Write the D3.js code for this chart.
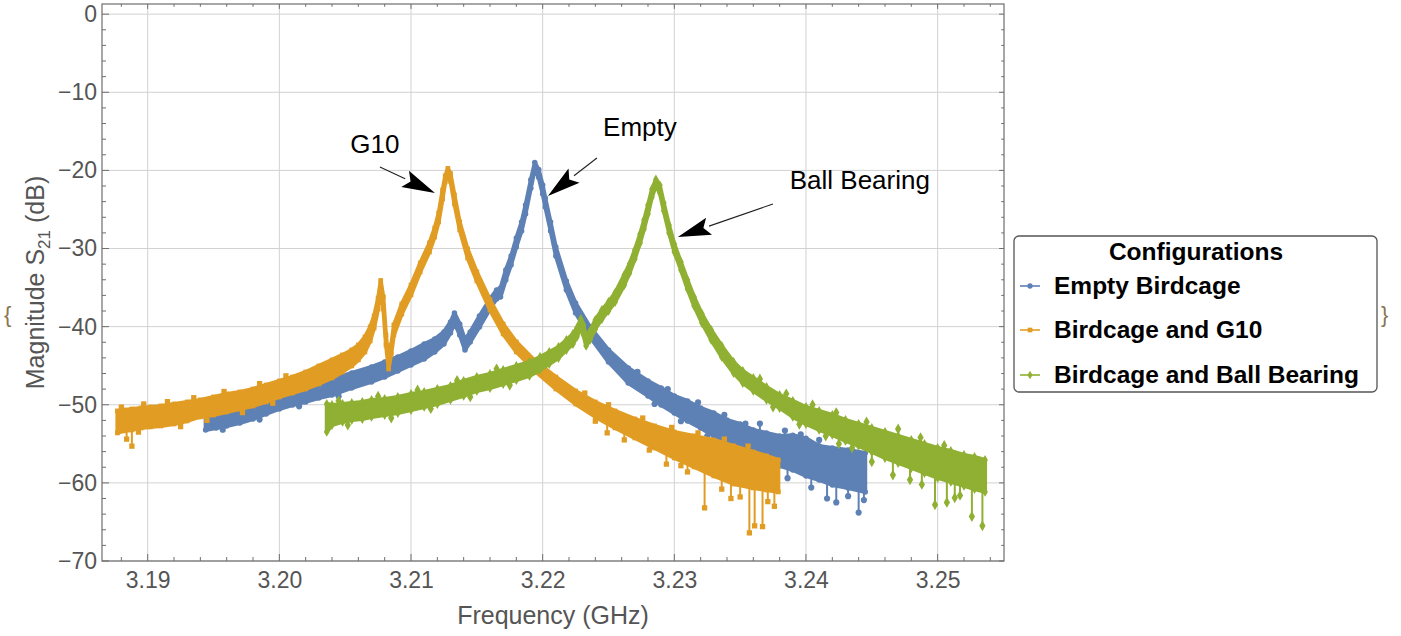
<!DOCTYPE html>
<html>
<head>
<meta charset="utf-8">
<script src="https://cdn.jsdelivr.net/npm/d3@7"></script>
<style>
  body { margin: 0; background: #fff; }
  svg { display: block; font-family: "Liberation Sans", Arial, sans-serif; }
</style>
</head>
<body>
<svg id="chart" width="1401" height="636"></svg>
<script>
// ---- axis ticks ----
const xTicks = [3.19, 3.20, 3.21, 3.22, 3.23, 3.24, 3.25];
const yTicks = [0, -10, -20, -30, -40, -50, -60, -70];

// ---- legend ----
const seriesNames = ["Empty Birdcage", "Birdcage and G10", "Birdcage and Ball Bearing"];
const seriesColors = ["#5e81b5", "#e19c24", "#8fb032"];
const seriesMarkers = ["circle", "square", "diamond"];

// ---- Empty birdcage: trace band (lower / upper edge, dB) vs frequency (GHz) ----
const emptyFreq = [3.1944, 3.1952, 3.1960, 3.1970, 3.1980, 3.1990, 3.2000, 3.2010, 3.2020, 3.2030,
  3.2040, 3.2055, 3.2070, 3.2080, 3.2090, 3.2100, 3.2110, 3.2118, 3.2125, 3.2130,
  3.2133, 3.2137, 3.2141, 3.2145, 3.2152, 3.2160, 3.2165, 3.2168, 3.2172, 3.2176,
  3.2180, 3.2184, 3.2187, 3.2191, 3.2194, 3.2197, 3.2200, 3.2202, 3.2206, 3.2210,
  3.2218, 3.2225, 3.2236, 3.2250, 3.2265, 3.2280, 3.2290, 3.2300, 3.2310, 3.2320,
  3.2330, 3.2340, 3.2350, 3.2360, 3.2370, 3.2380, 3.2390, 3.2400, 3.2410, 3.2420,
  3.2432, 3.2445];
const emptyHigh = [-51.31, -51.05, -50.79, -50.28, -49.90, -49.26, -48.49, -48.11, -47.59, -47.21,
  -46.70, -45.93, -45.16, -44.52, -43.88, -43.11, -42.22, -41.58, -40.68, -39.40,
  -38.25, -39.66, -41.70, -40.68, -38.63, -36.46, -35.30, -35.05, -32.74, -30.95,
  -28.65, -26.60, -24.42, -21.20, -19.00, -19.90, -21.86, -23.53, -26.60, -29.80,
  -34.15, -36.97, -40.04, -42.99, -45.29, -46.95, -47.85, -48.87, -49.51, -50.41,
  -51.05, -51.95, -52.46, -53.22, -53.61, -53.99, -53.90, -54.30, -55.27, -55.53,
  -55.78, -56.17];
const emptyLow = [-53.22, -52.97, -52.71, -52.33, -51.82, -51.18, -50.54, -50.03, -49.64, -49.13,
  -48.75, -47.85, -47.08, -46.44, -45.67, -44.90, -44.14, -43.24, -42.22, -40.81,
  -39.53, -41.06, -42.99, -41.96, -40.04, -37.74, -36.46, -36.20, -34.02, -32.10,
  -29.80, -27.75, -25.58, -22.30, -19.90, -20.90, -23.02, -24.68, -27.75, -30.95,
  -35.30, -38.25, -41.32, -44.52, -47.21, -48.87, -50.03, -51.05, -52.07, -52.97,
  -53.99, -54.63, -55.53, -56.42, -57.06, -57.83, -58.35, -59.11, -59.63, -60.27,
  -60.65, -61.16];
// isolated samples outside the band: [frequency, band edge, value]
const emptyOutliers = [
  [3.2355, -55.8, -57.0], [3.2372, -57.0, -58.8], [3.2386, -58.0, -59.4],
  [3.2404, -59.2, -60.6], [3.2416, -59.8, -62.0], [3.2423, -60.2, -62.5],
  [3.2432, -60.6, -61.7], [3.2440, -60.9, -63.8], [3.2444, -61.0, -62.2],
  [3.2365, -53.5, -52.4], [3.2354, -53.0, -52.4], [3.2384, -54.2, -53.3],
  [3.2410, -55.3, -54.5], [3.2396, -54.4, -53.8],
  [3.1950, -51.1, -50.7], [3.1975, -50.1, -49.7], [3.2005, -48.3, -47.9], [3.2035, -47.0, -46.6],
  [3.1957, -52.8, -53.2], [3.1985, -51.5, -51.9], [3.2015, -49.8, -50.2], [3.2045, -48.5, -48.9],
  [3.2272, -46.2, -45.8], [3.2295, -48.4, -48.0], [3.2318, -50.2, -49.7], [3.2338, -51.8, -51.3],
  [3.2285, -49.4, -49.9], [3.2305, -51.6, -52.1], [3.2325, -53.5, -54.0], [3.2345, -55.1, -55.6]
];

// ---- Birdcage and G10 ----
const g10Freq = [3.1877, 3.1882, 3.1888, 3.1895, 3.1902, 3.1910, 3.1920, 3.1930, 3.1940, 3.1950,
  3.1960, 3.1970, 3.1980, 3.1990, 3.2000, 3.2010, 3.2020, 3.2030, 3.2040, 3.2048,
  3.2055, 3.2060, 3.2065, 3.2069, 3.2072, 3.2075, 3.2077, 3.2079, 3.2081, 3.2083,
  3.2085, 3.2087, 3.2093, 3.2100, 3.2107, 3.2114, 3.2118, 3.2121, 3.2124, 3.2126,
  3.2128, 3.2130, 3.2133, 3.2137, 3.2143, 3.2150, 3.2160, 3.2170, 3.2180, 3.2195,
  3.2210, 3.2225, 3.2240, 3.2255, 3.2270, 3.2285, 3.2300, 3.2315, 3.2330, 3.2345,
  3.2360, 3.2370, 3.2379];
const g10High = [-50.79, -50.67, -50.54, -50.41, -50.28, -50.15, -49.90, -49.64, -49.38, -49.00,
  -48.62, -48.36, -47.98, -47.47, -46.95, -46.44, -45.80, -45.03, -44.26, -43.62,
  -42.98, -42.35, -41.32, -40.04, -38.63, -36.33, -34.10, -36.20, -41.06, -44.52,
  -42.35, -39.78, -37.10, -34.67, -31.85, -29.29, -27.37, -25.45, -22.50, -20.70,
  -19.75, -20.40, -23.14, -26.60, -30.06, -33.00, -36.58, -39.66, -41.96, -44.52,
  -46.44, -48.23, -49.64, -50.79, -51.82, -52.71, -53.48, -53.99, -54.51, -55.27,
  -56.04, -56.55, -57.06];
const g10Low = [-53.61, -53.35, -53.22, -52.97, -52.84, -52.71, -52.46, -52.07, -51.56, -51.31,
  -50.92, -50.54, -50.15, -49.64, -49.00, -48.49, -47.98, -47.34, -46.57, -45.80,
  -45.03, -44.26, -43.24, -41.83, -40.17, -37.74, -35.18, -37.74, -42.35, -45.42,
  -43.50, -41.06, -38.38, -35.94, -33.00, -30.44, -28.52, -26.60, -23.65, -21.48,
  -20.60, -21.40, -24.30, -27.62, -31.21, -34.15, -37.86, -40.94, -43.24, -45.80,
  -47.98, -49.90, -51.56, -52.97, -54.25, -55.53, -56.81, -57.96, -59.11, -60.14,
  -60.65, -60.91, -61.16];
const g10Outliers = [
  [3.1888, -53.2, -55.3], [3.1884, -53.3, -54.4], [3.2249, -51.5, -53.6],
  [3.2262, -53.3, -54.5], [3.2294, -56.0, -57.6], [3.2310, -57.5, -58.6],
  [3.2323, -58.6, -63.2], [3.2336, -59.3, -60.8], [3.2350, -60.2, -61.8],
  [3.2357, -60.5, -66.4], [3.2361, -60.6, -65.5], [3.2367, -60.8, -65.6],
  [3.2371, -60.9, -62.4], [3.2376, -61.0, -63.0], [3.2343, -59.9, -62.0],
  [3.1880, -50.7, -50.3], [3.1897, -50.3, -49.9], [3.1915, -50.0, -49.6], [3.1935, -49.5, -49.1],
  [3.1958, -48.7, -48.3], [3.1985, -47.7, -47.3], [3.2005, -46.7, -46.3],
  [3.1893, -53.0, -53.5], [3.1925, -52.3, -52.8], [3.1945, -51.5, -52.0], [3.1972, -50.5, -51.0],
  [3.1995, -49.3, -49.8],
  [3.2232, -48.9, -48.5], [3.2250, -50.4, -50.0], [3.2276, -52.2, -51.7], [3.2298, -53.4, -52.9],
  [3.2318, -54.1, -53.6], [3.2338, -54.9, -54.4], [3.2356, -55.8, -55.3],
  [3.2240, -51.6, -52.1], [3.2281, -55.2, -55.8], [3.2305, -57.1, -57.8]
];

// ---- Birdcage and Ball Bearing ----
const ballFreq = [3.2036, 3.2040, 3.2048, 3.2055, 3.2063, 3.2070, 3.2080, 3.2090, 3.2100, 3.2110,
  3.2120, 3.2130, 3.2140, 3.2150, 3.2160, 3.2170, 3.2180, 3.2190, 3.2198, 3.2205,
  3.2212, 3.2218, 3.2223, 3.2226, 3.2229, 3.2231, 3.2233, 3.2236, 3.2240, 3.2245,
  3.2250, 3.2255, 3.2262, 3.2266, 3.2270, 3.2274, 3.2277, 3.2280, 3.2283, 3.2286,
  3.2289, 3.2292, 3.2296, 3.2300, 3.2305, 3.2310, 3.2315, 3.2321, 3.2328, 3.2336,
  3.2345, 3.2352, 3.2360, 3.2370, 3.2380, 3.2390, 3.2400, 3.2410, 3.2420, 3.2430,
  3.2440, 3.2450, 3.2460, 3.2470, 3.2480, 3.2490, 3.2500, 3.2510, 3.2520, 3.2528,
  3.2536];
const ballHigh = [-49.90, -50.03, -49.90, -49.77, -49.64, -49.38, -49.26, -49.00, -48.62, -48.36,
  -47.98, -47.59, -46.95, -46.44, -46.06, -45.54, -45.03, -44.52, -43.88, -43.24,
  -42.60, -41.70, -40.94, -40.17, -39.02, -39.78, -41.32, -40.55, -39.14, -37.86,
  -36.84, -35.69, -33.38, -31.97, -30.18, -28.14, -26.35, -24.42, -22.40, -21.16,
  -21.90, -24.17, -26.98, -29.42, -31.72, -34.02, -36.20, -38.38, -40.42, -42.47,
  -44.52, -45.67, -46.57, -47.72, -48.75, -49.51, -50.28, -50.79, -51.31, -51.95,
  -52.46, -52.97, -53.48, -53.99, -54.51, -55.02, -55.53, -55.91, -56.42, -56.68,
  -57.06];
const ballLow = [-53.48, -52.59, -52.20, -51.95, -51.82, -51.56, -51.31, -51.05, -50.67, -50.28,
  -49.90, -49.38, -48.87, -48.23, -47.85, -47.34, -46.83, -46.31, -45.54, -44.78,
  -44.01, -42.99, -42.22, -41.32, -40.17, -41.06, -42.47, -41.70, -40.30, -39.02,
  -37.99, -36.84, -34.67, -33.13, -31.33, -29.29, -27.49, -25.58, -23.40, -22.00,
  -22.90, -25.19, -28.01, -30.44, -32.74, -35.18, -37.35, -39.53, -41.70, -43.88,
  -45.93, -47.21, -48.23, -49.38, -50.41, -51.56, -52.46, -53.22, -53.86, -54.63,
  -55.27, -56.04, -56.81, -57.45, -58.09, -58.73, -59.37, -59.88, -60.39, -60.78,
  -61.16];
const ballOutliers = [
  [3.2425, -54.2, -55.0], [3.2450, -56.0, -57.3], [3.2466, -57.2, -59.0],
  [3.2479, -58.0, -59.6], [3.2488, -58.6, -60.2], [3.2498, -59.3, -62.8],
  [3.2507, -59.8, -62.5], [3.2517, -60.3, -61.6], [3.2526, -60.7, -64.3],
  [3.2534, -61.1, -65.5], [3.2513, -60.1, -61.9],
  [3.2423, -51.6, -51.0], [3.2446, -52.9, -52.2], [3.2470, -54.0, -53.1],
  [3.2487, -54.9, -54.2], [3.2505, -55.8, -55.2],
  [3.2045, -49.9, -49.5], [3.2075, -49.3, -48.9], [3.2105, -48.5, -48.1], [3.2135, -47.3, -46.9],
  [3.2165, -45.8, -45.4], [3.2052, -52.1, -52.6], [3.2085, -51.2, -51.7], [3.2115, -50.1, -50.5],
  [3.2145, -48.6, -49.0], [3.2175, -47.1, -47.5],
  [3.2365, -47.1, -46.7], [3.2385, -49.1, -48.6], [3.2405, -50.5, -50.0],
  [3.2375, -49.8, -50.3], [3.2395, -52.0, -52.5], [3.2415, -53.5, -54.0], [3.2435, -54.9, -55.5]
];

// ---- annotations: [label, text position, arrow tail, arrow tip] in data units ----
const annotations = [
  ["G10",          [3.20726, -16.6], [3.20764, -19.56], [3.21182, -22.89]],
  ["Empty",        [3.22739, -14.4], [3.22412, -18.41], [3.22040, -23.27]],
  ["Ball Bearing", [3.24409, -21.2], [3.23749, -24.30], [3.23027, -28.52]]
];

// ---------------------------------------------------------------
const svg = d3.select("#chart");
const plot = { left: 102, right: 1004, top: 4, bottom: 561 };

const x = d3.scaleLinear().domain([3.18653, 3.25504]).range([plot.left, plot.right]);
const y = d3.scaleLinear().domain([-70, 1.3]).range([plot.bottom, plot.top]);

const axisGray = "#555";
const frameGray = "#6e6e6e";

// grid
const grid = svg.append("g");
grid.selectAll("line.vx").data(xTicks).join("line")
  .attr("x1", d => x(d)).attr("x2", d => x(d))
  .attr("y1", plot.top).attr("y2", plot.bottom)
  .attr("stroke", "#d2d2d2").attr("stroke-width", 1);
grid.selectAll("line.hy").data(yTicks).join("line")
  .attr("x1", plot.left).attr("x2", plot.right)
  .attr("y1", d => y(d)).attr("y2", d => y(d))
  .attr("stroke", "#d2d2d2").attr("stroke-width", 1);

// data layer, clipped to the frame
svg.append("clipPath").attr("id", "plotClip").append("rect")
  .attr("x", plot.left).attr("y", plot.top)
  .attr("width", plot.right - plot.left).attr("height", plot.bottom - plot.top);
const dataLayer = svg.append("g").attr("clip-path", "url(#plotClip)");

function markerPath(kind, size) {
  const sym = kind === "circle" ? d3.symbolCircle : kind === "square" ? d3.symbolSquare : d3.symbolDiamond;
  return d3.symbol().type(sym).size(size)();
}

function drawSeries(freq, low, high, outliers, color, kind) {
  const pts = freq.map((f, i) => ({ f, lo: low[i], hi: high[i] }));
  const g = dataLayer.append("g");
  const area = d3.area().x(d => x(d.f)).y0(d => y(d.lo)).y1(d => y(d.hi));
  g.append("path").datum(pts).attr("d", area)
    .attr("fill", color).attr("stroke", color)
    .attr("stroke-width", 4).attr("stroke-linejoin", "round");
  // sample markers along both edges of the band
  const msize = kind === "circle" ? 24 : kind === "square" ? 22 : 28;
  const edgePts = pts.flatMap(d => [[d.f, d.lo], [d.f, d.hi]]);
  g.selectAll("path.edge").data(edgePts).join("path")
    .attr("d", markerPath(kind, msize))
    .attr("transform", d => `translate(${x(d[0])},${y(d[1])})`)
    .attr("fill", color);
  // isolated noisy samples with their stems
  g.selectAll("line.stem").data(outliers).join("line")
    .attr("x1", d => x(d[0])).attr("x2", d => x(d[0]))
    .attr("y1", d => y(d[1])).attr("y2", d => y(d[2]))
    .attr("stroke", color).attr("stroke-width", 2);
  g.selectAll("path.out").data(outliers).join("path")
    .attr("d", markerPath(kind, msize + 6))
    .attr("transform", d => `translate(${x(d[0])},${y(d[2])})`)
    .attr("fill", color);
}

drawSeries(emptyFreq, emptyLow, emptyHigh, emptyOutliers, seriesColors[0], seriesMarkers[0]);
drawSeries(g10Freq, g10Low, g10High, g10Outliers, seriesColors[1], seriesMarkers[1]);
drawSeries(ballFreq, ballLow, ballHigh, ballOutliers, seriesColors[2], seriesMarkers[2]);

// frame
svg.append("rect")
  .attr("x", plot.left).attr("y", plot.top)
  .attr("width", plot.right - plot.left).attr("height", plot.bottom - plot.top)
  .attr("fill", "none").attr("stroke", frameGray).attr("stroke-width", 1.2);

// ticks (major + minor on all four sides, pointing inward)
const xMinor = d3.range(3.188, 3.2549, 0.002).filter(v => !xTicks.some(t => Math.abs(t - v) < 1e-6));
const yMinor = d3.range(0, -70.01, -2).filter(v => v % 10 !== 0);
const ticks = svg.append("g").attr("stroke", frameGray).attr("stroke-width", 1);
function vTicks(vals, len) {
  ticks.selectAll(null).data(vals).join("line")
    .attr("x1", d => x(d)).attr("x2", d => x(d))
    .attr("y1", plot.bottom).attr("y2", plot.bottom - len);
  ticks.selectAll(null).data(vals).join("line")
    .attr("x1", d => x(d)).attr("x2", d => x(d))
    .attr("y1", plot.top).attr("y2", plot.top + len * 0.7);
}
function hTicks(vals, len) {
  ticks.selectAll(null).data(vals).join("line")
    .attr("y1", d => y(d)).attr("y2", d => y(d))
    .attr("x1", plot.left).attr("x2", plot.left + len);
  ticks.selectAll(null).data(vals).join("line")
    .attr("y1", d => y(d)).attr("y2", d => y(d))
    .attr("x1", plot.right).attr("x2", plot.right - len * 0.7);
}
vTicks(xTicks, 7); vTicks(xMinor, 4);
hTicks(yTicks, 7); hTicks(yMinor, 4);

// tick labels
const gx = svg.append("g").attr("transform", `translate(0,${plot.bottom})`)
  .call(d3.axisBottom(x).tickValues(xTicks).tickFormat(d3.format(".2f")).tickSize(0).tickPadding(11));
gx.select(".domain").remove();
gx.attr("font-family", null).attr("font-size", 23);
gx.selectAll("text").attr("fill", axisGray);

const gy = svg.append("g").attr("transform", `translate(${plot.left},0)`)
  .call(d3.axisLeft(y).tickValues(yTicks).tickFormat(d3.format("d")).tickSize(0).tickPadding(5));
gy.select(".domain").remove();
gy.attr("font-family", null).attr("font-size", 23);
gy.selectAll("text").attr("fill", axisGray);

// axis titles
svg.append("text")
  .attr("x", (plot.left + plot.right) / 2).attr("y", 624)
  .attr("text-anchor", "middle").attr("font-size", 25).attr("fill", axisGray)
  .text("Frequency (GHz)");

const yTitle = svg.append("text")
  .attr("transform", `translate(44,${(plot.top + plot.bottom) / 2}) rotate(-90)`)
  .attr("text-anchor", "middle").attr("font-size", 25).attr("fill", axisGray);
yTitle.append("tspan").text("Magnitude S");
yTitle.append("tspan").attr("font-size", 17).attr("dy", 6).text("21");
yTitle.append("tspan").attr("dy", -6).text(" (dB)");

// annotations with filled arrowheads
const ann = svg.append("g");
annotations.forEach(([label, tp, tail, tip]) => {
  const x0 = x(tail[0]), y0 = y(tail[1]), x1 = x(tip[0]), y1 = y(tip[1]);
  const dx = x1 - x0, dy = y1 - y0, L = Math.hypot(dx, dy);
  const ux = dx / L, uy = dy / L, headLen = 33, headW = 9;
  const bx = x1 - ux * headLen, by = y1 - uy * headLen;
  ann.append("line").attr("x1", x0).attr("y1", y0).attr("x2", bx).attr("y2", by)
    .attr("stroke", "#222").attr("stroke-width", 1.1);
  ann.append("path")
    .attr("d", `M${x1},${y1}L${bx - uy * headW},${by + ux * headW}L${bx + ux * 6},${by + uy * 6}L${bx + uy * headW},${by - ux * headW}Z`)
    .attr("fill", "#000");
  ann.append("text").attr("x", x(tp[0])).attr("y", y(tp[1]))
    .attr("text-anchor", "middle").attr("dy", "0.35em")
    .attr("font-size", 26).attr("fill", "#000").text(label);
});

// legend
const lg = svg.append("g");
lg.append("rect").attr("x", 1014).attr("y", 236).attr("width", 363).attr("height", 156)
  .attr("rx", 5).attr("fill", "#fff").attr("stroke", "#555").attr("stroke-width", 1.3);
lg.append("text").attr("x", 1196).attr("y", 260).attr("text-anchor", "middle")
  .attr("font-size", 24.5).attr("font-weight", "bold").attr("fill", "#000").text("Configurations");
const rowY = [286, 330, 375];
seriesNames.forEach((name, i) => {
  lg.append("line").attr("x1", 1020).attr("x2", 1040).attr("y1", rowY[i]).attr("y2", rowY[i])
    .attr("stroke", seriesColors[i]).attr("stroke-width", 1.6);
  lg.append("path").attr("d", markerPath(seriesMarkers[i], 22))
    .attr("transform", `translate(1030,${rowY[i]})`).attr("fill", seriesColors[i]);
  lg.append("text").attr("x", 1054).attr("y", rowY[i] + 8)
    .attr("font-size", 24.5).attr("font-weight", "bold").attr("fill", "#000").text(name);
});

// list braces around the output
svg.append("text").attr("x", 4).attr("y", 322).attr("font-size", 22).attr("fill", "#8a7650").text("{");
svg.append("text").attr("x", 1381).attr("y", 322).attr("font-size", 22).attr("fill", "#8a7650").text("}");
</script>
</body>
</html>
